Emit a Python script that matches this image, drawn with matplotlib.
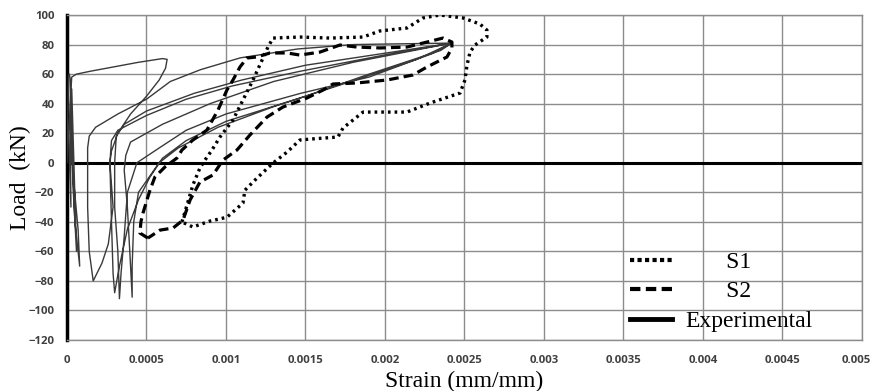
import matplotlib
matplotlib.use("Agg")
import matplotlib.pyplot as plt
import matplotlib.transforms as mtransforms
from matplotlib.lines import Line2D

# ---------------- data ----------------
s1_strain = [0.000723, 0.000755, 0.000792, 0.000836, 0.000868, 0.000912, 0.000962, 0.001044,
             0.001107, 0.001170, 0.001233, 0.001264, 0.001296, 0.001465, 0.001654, 0.001862,
             0.001968, 0.002138, 0.002239, 0.002346, 0.002491, 0.002597, 0.002641, 0.002641,
             0.002566, 0.002535, 0.002516, 0.002503, 0.002472, 0.002283, 0.002138, 0.001937,
             0.001862, 0.001736, 0.001704, 0.001528, 0.001465, 0.001384, 0.001296, 0.001195,
             0.001119, 0.001107, 0.001006, 0.000899, 0.000792, 0.000723]
s1_load = [-40.1, -28.6, -15.1, -3.6, 1.8, 8.6, 17.4, 28.9,
           42.5, 56.0, 70.9, 78.3, 84.4, 85.1, 84.4, 85.1,
           89.2, 91.2, 98.0, 100.0, 98.0, 93.9, 89.8, 85.1,
           79.7, 74.9, 66.1, 56.0, 47.2, 40.4, 34.3, 34.3,
           34.3, 23.5, 17.4, 16.0, 15.4, 7.2, -0.2, -10.4,
           -18.6, -27.3, -36.9, -39.5, -43.5, -40.1]

s2_strain = [0.000509, 0.000459, 0.000465, 0.000478, 0.000522, 0.000553, 0.000616, 0.000692,
             0.000723, 0.000792, 0.000880, 0.000950, 0.001006, 0.001044, 0.001088, 0.001132,
             0.001195, 0.001277, 0.001384, 0.001465, 0.001591, 0.001717, 0.001824, 0.001968,
             0.002138, 0.002264, 0.002365, 0.002421, 0.002421, 0.002390, 0.002264, 0.002176,
             0.002013, 0.001824, 0.001673, 0.001610, 0.001509, 0.001358, 0.001258, 0.001151,
             0.001069, 0.000981, 0.000918, 0.000836, 0.000774, 0.000730, 0.000667, 0.000585,
             0.000509]
s2_load = [-51.0, -47.6, -40.1, -34.1, -18.5, -9.7, -2.9, 3.2,
           8.6, 15.4, 22.1, 35.7, 49.2, 56.0, 64.8, 70.9,
           71.6, 74.3, 74.3, 72.9, 74.9, 79.7, 78.3, 77.7,
           78.3, 81.7, 84.4, 81.7, 77.7, 71.6, 64.8, 59.4,
           56.0, 54.0, 53.3, 49.2, 43.8, 37.7, 30.9, 18.8,
           8.6, 1.8, -8.3, -13.1, -25.3, -38.8, -44.2, -45.6,
           -51.0]

exp_strain = [0.0, 0.000005, 0.00001, 0.000015, 0.00002, 0.000035, 0.00005, 0.00008, 0.00007,
              0.00004, 0.00002, 0.000025, 0.00001, 0.00003, 0.00006, 0.00004, 0.00002, 0.00003,
              0.00006, 0.00015, 0.0003, 0.00045, 0.0006, 0.00063, 0.00062, 0.00058, 0.0005,
              0.0004, 0.00032, 0.00028, 0.00027, 0.00028, 0.00029, 0.00026, 0.00022, 0.000165,
              0.00014, 0.00013, 0.00013, 0.00013, 0.00014,
              0.00018, 0.00032, 0.0005, 0.00065, 0.00084, 0.00109, 0.00145, 0.0018, 0.0021, 0.00242,
              0.00235, 0.0019, 0.0015, 0.001, 0.00075, 0.0006, 0.00052, 0.00045, 0.00038, 0.00033,
              0.0003, 0.00029,
              0.00028, 0.00027, 0.00028, 0.00032, 0.0005, 0.00075, 0.00104, 0.00147, 0.002, 0.00242,
              0.0023, 0.0019, 0.00147, 0.001, 0.00075, 0.00058, 0.00044, 0.00038, 0.00036, 0.00034,
              0.00033, 0.00032,
              0.0003, 0.0003, 0.00031, 0.00036, 0.0005, 0.0008, 0.0011, 0.0015, 0.00242,
              0.0022, 0.0017, 0.0013, 0.00095, 0.0007, 0.00058, 0.00045, 0.00042, 0.00041, 0.00041,
              0.0004, 0.00038, 0.00036, 0.00037, 0.0004, 0.0006, 0.0009, 0.0013, 0.0018, 0.00242]
exp_load = [0.0, 30, 58, 60, 57, 0, -40, -70, -45,
            -10, 30, -30, 20, 50, -60, -20, 40, 58,
            60, 62, 65, 68, 70.5, 70, 64, 56, 45,
            33, 20, 8, 0, -15, -30, -55, -68, -80,
            -60, -30, 0, 10, 18,
            24, 33, 43, 55, 63, 71, 77, 80, 80.5, 81,
            76, 60, 45, 28, 15, 3, -10, -25, -45, -70,
            -88, -75,
            -40, 0, 15, 22, 32, 43, 52, 62, 73, 81,
            74, 58, 47, 33, 22, 10, 0, -20, -50, -75,
            -92, -60,
            -30, 0, 18, 26, 35, 47, 56, 66, 81,
            70, 52, 38, 24, 10, 0, -20, -40, -70, -91,
            -70, -30, -5, 5, 14, 26, 40, 55, 68, 81]

xticks = [0, 0.0005, 0.001, 0.0015, 0.002, 0.0025, 0.003, 0.0035, 0.004, 0.0045, 0.005]
xtick_labels = ["0", "0.0005", "0.001", "0.0015", "0.002", "0.0025", "0.003", "0.0035",
                "0.004", "0.0045", "0.005"]
yticks = list(range(-120, 101, 20))

# ---------------- figure ----------------
fig = plt.figure(figsize=(8.73, 3.91), dpi=100)
ax = fig.add_axes([0.0767, 0.1304, 0.9107, 0.8312])

ax.set_xlim(0, 0.005)
ax.set_ylim(-120, 100)
ax.set_xticks(xticks)
ax.set_xticklabels(xtick_labels)
ax.set_yticks(yticks)
ax.grid(True, color="#8c8c8c", linewidth=1.0)
ax.set_axisbelow(True)
ax.tick_params(length=0, labelsize=8.2, labelcolor="#404040")
ax.tick_params(axis="x", pad=11)
ax.tick_params(axis="y", pad=9)
for lab in ax.get_xticklabels() + ax.get_yticklabels():
    lab.set_fontweight("bold")
    lab.set_family("Open Sans")
last = ax.get_xticklabels()[-1]
last.set_transform(last.get_transform() +
                   mtransforms.ScaledTranslation(-6 / 100, 0, fig.dpi_scale_trans))

for side in ["top", "right", "bottom"]:
    ax.spines[side].set_color("#8c8c8c")
    ax.spines[side].set_linewidth(1.0)
ax.spines["left"].set_color("black")
ax.spines["left"].set_linewidth(2.5)

ax.axhline(0, color="black", linewidth=2.2, zorder=2)

ax.plot(exp_strain, exp_load, color="#3a3a3a", linewidth=1.0, zorder=3)
ax.plot(s2_strain, s2_load, color="black", linewidth=2.3, linestyle=(0, (3, 1.6)), zorder=4)
ax.plot(s1_strain, s1_load, color="black", linewidth=2.4, linestyle=(0, (0.8, 1.2)), zorder=5)

serif = ["Liberation Serif", "DejaVu Serif"]
ax.set_xlabel("Strain (mm/mm)", family=serif, fontsize=17, va="center")
ax.set_ylabel("Load  (kN)", family=serif, fontsize=17, va="center")
ax.xaxis.set_label_coords(0.5, -0.127)
ax.yaxis.set_label_coords(-0.059, 0.5)

handles = [
    Line2D([], [], color="black", linewidth=3, linestyle=(0, (1, 0.8))),
    Line2D([], [], color="black", linewidth=3, linestyle=(0, (2.5, 1.3))),
    Line2D([], [], color="black", linewidth=3.5, linestyle="-"),
]
labels = ["       S1", "       S2", "Experimental"]
leg = ax.legend(handles, labels, loc="upper left", bbox_to_anchor=(0.708, 0.272),
                frameon=False, prop={"family": serif, "size": 17},
                handlelength=1.8, handletextpad=0.55, labelspacing=0.33, borderaxespad=0,
                borderpad=0)

fig.savefig("out.png", dpi=100)
